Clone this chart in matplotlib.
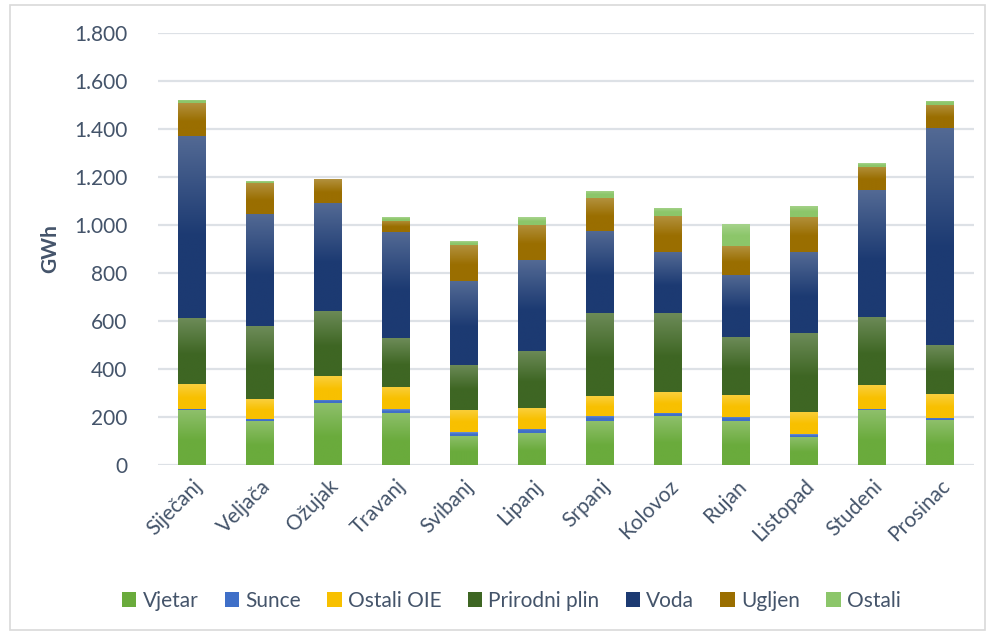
import numpy as np
import matplotlib
matplotlib.use("Agg")
import matplotlib.pyplot as plt
import matplotlib.colors as mcolors
from matplotlib.patches import Rectangle

months = ["Siječanj", "Veljača", "Ožujak", "Travanj", "Svibanj", "Lipanj",
          "Srpanj", "Kolovoz", "Rujan", "Listopad", "Studeni", "Prosinac"]

# GWh po izvoru
vjetar = [229, 183, 258, 217, 121, 133, 183, 204, 183, 117, 229, 187]
sunce = [5, 9, 13, 16, 16, 17, 21, 13, 17, 12, 4, 9]
ostali_oie = [103, 83, 100, 92, 92, 87, 83, 87, 92, 92, 100, 100]
plin = [275, 304, 271, 204, 188, 238, 346, 329, 241, 329, 284, 204]
voda = [760, 467, 450, 442, 350, 379, 342, 254, 259, 337, 529, 904]
ugljen = [135, 129, 98, 46, 150, 146, 137, 150, 120, 146, 96, 96]
ostali = [14, 8, 3, 16, 16, 33, 30, 34, 92, 46, 16, 17]

series = [("Vjetar", vjetar, "#6aab3c"),
          ("Sunce", sunce, "#3f6fc8"),
          ("Ostali OIE", ostali_oie, "#f8c000"),
          ("Prirodni plin", plin, "#3e6623"),
          ("Voda", voda, "#1c3a72"),
          ("Ugljen", ugljen, "#9a6e00"),
          ("Ostali", ostali, "#8cc66a")]

text_col = "#44546a"
plt.rcParams['font.family'] = ['Lato', 'DejaVu Sans']


def shade(ax, patch, color):
    # svjetliji vrh segmenta, kao gradijent u Excelu
    x0, y0 = patch.get_x(), patch.get_y()
    w, h = patch.get_width(), patch.get_height()
    if h <= 0:
        return
    rgb = np.array(mcolors.to_rgb(color))
    t = np.linspace(0, 1, 60)[:, None]
    mix = np.clip(1 - t / 0.55, 0, 1) * 0.24
    img = rgb[None, :] * (1 - mix) + mix
    img = np.repeat(img[:, None, :], 2, axis=1)
    im = ax.imshow(img, extent=(x0, x0 + w, y0, y0 + h), origin="upper",
                   aspect="auto", zorder=3, interpolation="bilinear")
    im.set_clip_path(patch)


fig = plt.figure(figsize=(9.87, 6.33), dpi=100)
fig.patches.append(Rectangle((10 / 987, 3 / 633), 975 / 987, 625 / 633,
                             transform=fig.transFigure, fill=False,
                             edgecolor="#d9d9d9", linewidth=1.2))
ax = fig.add_axes([158 / 987, 168 / 633, 816 / 987, 432 / 633])

x = np.arange(len(months))
bottom = np.zeros(len(months))
for name, vals, col in series:
    bars = ax.bar(x, vals, width=0.41, bottom=bottom, color=col, label=name,
                  zorder=2, linewidth=0)
    for b in bars:
        shade(ax, b, col)
    bottom += np.array(vals)

ax.set_xlim(-0.5, len(months) - 0.5)
ax.set_ylim(0, 1800)
ax.set_yticks(range(0, 1801, 200))
ax.set_yticklabels([f"{v:,}".replace(",", ".") for v in range(0, 1801, 200)],
                   fontsize=15, color=text_col)
ax.set_xticks(x)
ax.set_xticklabels(months, rotation=45, ha="right", rotation_mode="anchor",
                   fontsize=15, color=text_col)
ax.tick_params(length=0)
ax.tick_params(axis="y", pad=22)
ax.tick_params(axis="x", pad=8)
ax.grid(axis="y", color="#dde1e6", linewidth=1.6, zorder=0)
ax.set_axisbelow(True)
for s in ax.spines.values():
    s.set_visible(False)
ax.set_ylabel("GWh", fontsize=15, fontweight="bold", color=text_col, labelpad=10)

ax.legend(loc="center", bbox_to_anchor=(0.433, -0.315), ncol=7, frameon=False,
          fontsize=15, labelcolor=text_col, handlelength=0.7, handleheight=0.7,
          handletextpad=0.3, columnspacing=1.25)

fig.savefig("out.png", dpi=100)
